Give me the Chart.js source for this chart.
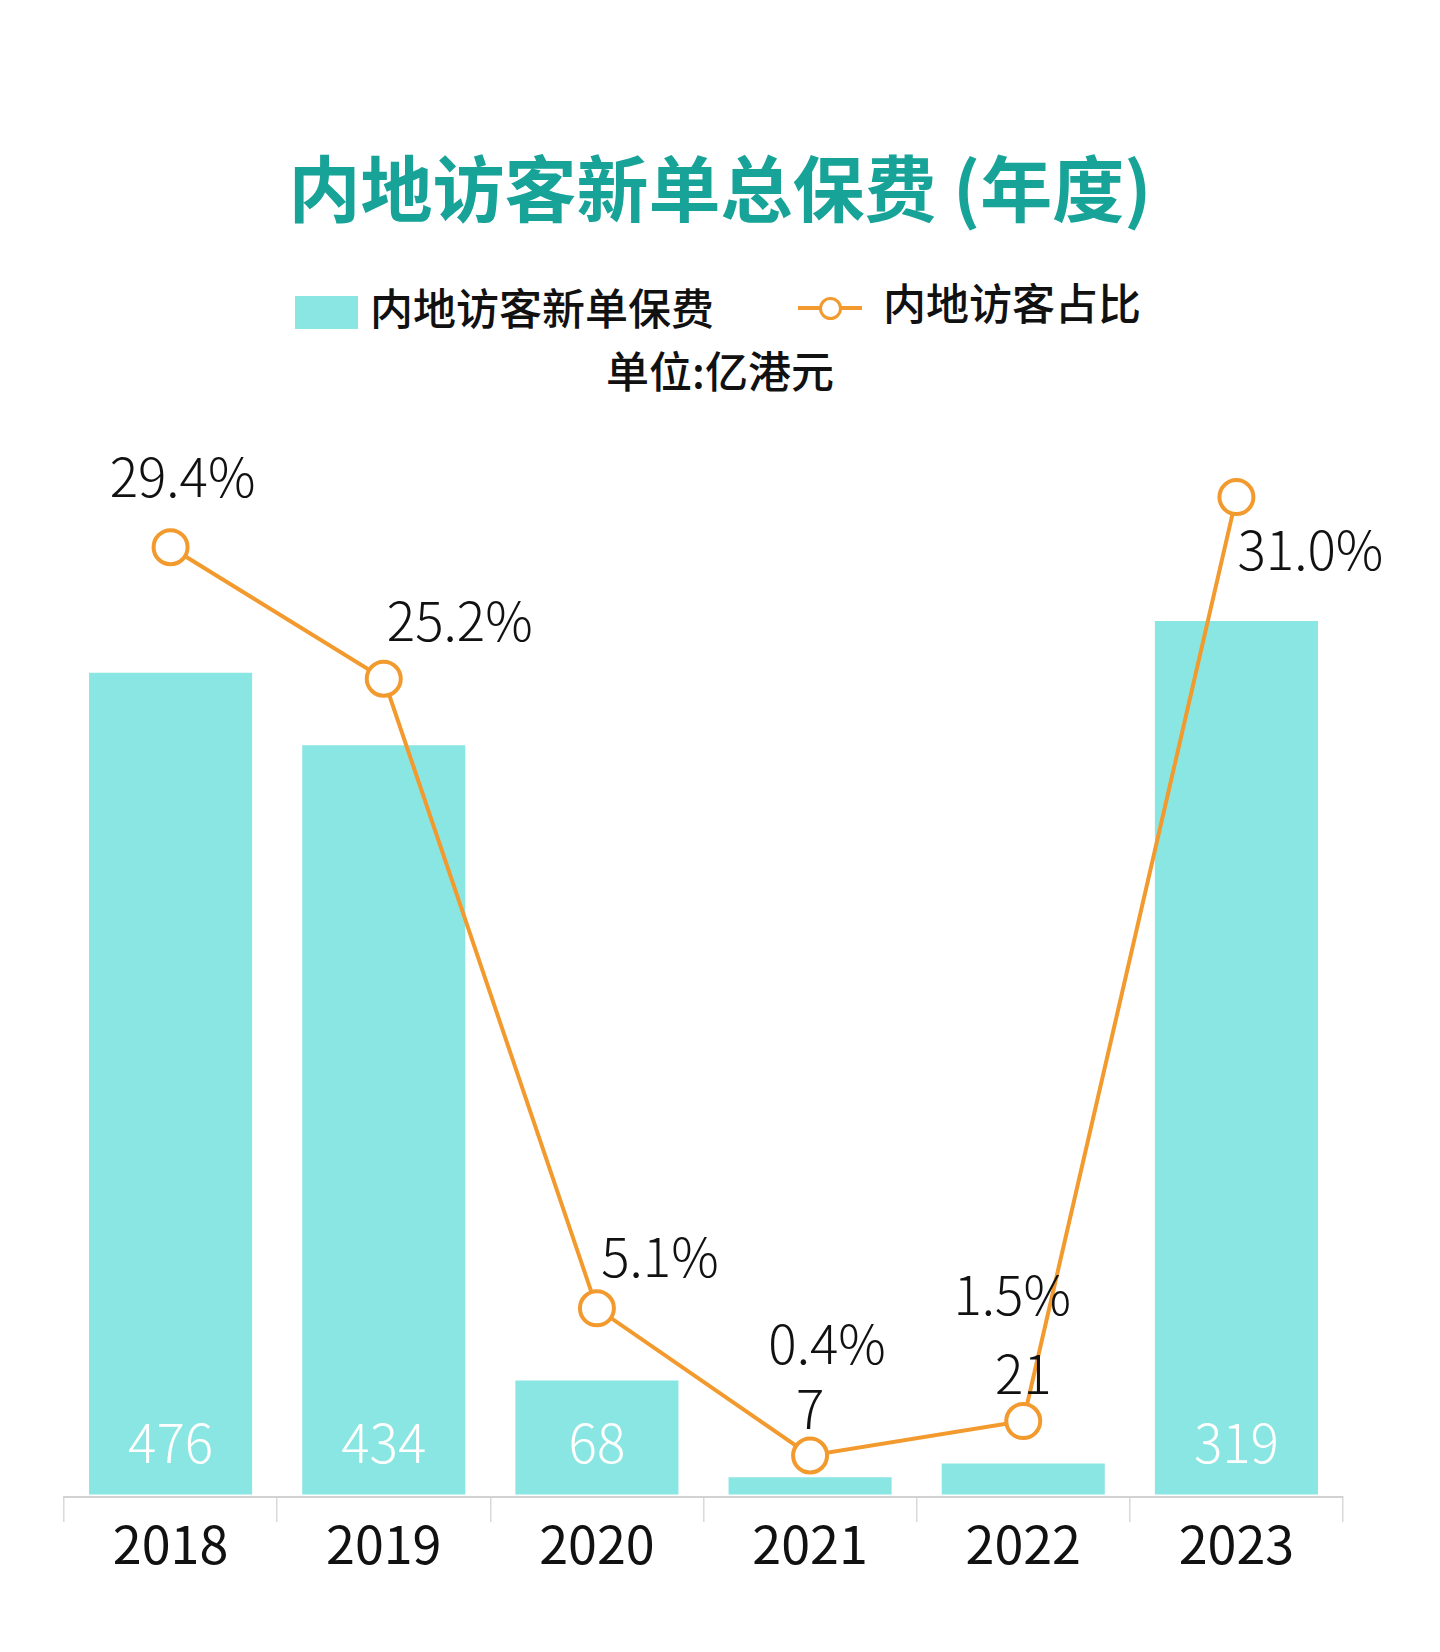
<!DOCTYPE html>
<html lang="zh-CN">
<head>
<meta charset="utf-8">
<title>内地访客新单总保费 (年度)</title>
<script src="https://cdn.jsdelivr.net/npm/chart.js@4.4.1/dist/chart.umd.min.js"></script>
<style>
    html, body { margin: 0; padding: 0; background: #fff; }
    body {
        width: 1440px; height: 1652px; position: relative; overflow: hidden;
        font-family: "Noto Sans CJK SC", "Noto Sans", sans-serif;
    }
    .title {
        position: absolute; left: 0; top: 149px; width: 1440px; text-align: center;
        font-size: 72px; line-height: 72px; font-weight: 700; color: #17a398;
    }
    .legend-text {
        position: absolute; font-size: 43px; line-height: 43px; font-weight: 500;
        color: #111; white-space: nowrap;
    }
    .swatch-bar { position: absolute; left: 295px; top: 296px; width: 63px; height: 33px; background: #8ae6e3; }
    .swatch-line { position: absolute; left: 798px; top: 306px; width: 64px; height: 4px; background: #f29a2e; }
    .swatch-dot {
        position: absolute; left: 819px; top: 297px; width: 23px; height: 23px; box-sizing: border-box;
        border: 3.5px solid #f29a2e; border-radius: 50%; background: #fff;
    }
    .unit { left: 0; width: 1440px; text-align: center; top: 348px; }
    #chart { position: absolute; left: 0; top: 400px; }
</style>
</head>
<body>
<div class="title">内地访客新单总保费 (年度)</div>
<div class="swatch-bar"></div>
<div class="legend-text" style="left:370px; top:285px">内地访客新单保费</div>
<div class="swatch-line"></div>
<div class="swatch-dot"></div>
<div class="legend-text" style="left:883px; top:280px">内地访客占比</div>
<div class="legend-text unit">单位:亿港元</div>
<canvas id="chart" width="1440" height="1252"></canvas>

<script>
const years = ['2018', '2019', '2020', '2021', '2022', '2023'];
// new-policy premium from mainland visitors, 亿港元 (the numbers printed on the bars)
const premium = [476, 434, 68, 7, 21, 319];
// bar lengths as the source draws them, same units; its 2023 bar is drawn far taller than 319
const barLength = [476, 434, 66, 10, 18, 506];
// mainland visitors' share, %
const share = [29.4, 25.2, 5.1, 0.4, 1.5, 31.0];

// where each % label sits relative to its point (px), copied from the source layout
const shareLabelShift = [[12, -50], [76, -38], [63, -31], [17, -92], [-11, -106], [74, 73]];

const numFont = '300 53px "Noto Sans CJK SC", "Noto Sans", sans-serif';

const valueLabels = {
    id: 'valueLabels',
    afterDatasetsDraw(chart) {
        const ctx = chart.ctx;
        const bars = chart.getDatasetMeta(0).data;
        const points = chart.getDatasetMeta(1).data;
        ctx.save();
        ctx.font = numFont;
        ctx.textAlign = 'center';
        ctx.textBaseline = 'alphabetic';

        bars.forEach((bar, i) => {
            if (bar.base - bar.y > 80) {
                ctx.fillStyle = '#fff';
                ctx.fillText(premium[i], bar.x, bar.base - 31);
            } else {
                // too short to hold the number: put it just above the line point
                ctx.fillStyle = '#111';
                ctx.fillText(premium[i], points[i].x, points[i].y - 27);
            }
        });

        ctx.fillStyle = '#111';
        points.forEach((pt, i) => {
            const [dx, dy] = shareLabelShift[i];
            ctx.fillText(share[i].toFixed(1) + '%', pt.x + dx, pt.y + dy);
        });
        ctx.restore();
    }
};

new Chart(document.getElementById('chart'), {
    data: {
        labels: years,
        datasets: [
            {
                type: 'bar',
                label: '内地访客新单保费',
                data: barLength,
                yAxisID: 'y',
                backgroundColor: '#8ae6e3',
                barPercentage: 0.765,
                categoryPercentage: 1,
                order: 2
            },
            {
                type: 'line',
                label: '内地访客占比',
                data: share,
                yAxisID: 'y1',
                borderColor: '#f29a2e',
                borderWidth: 4,
                tension: 0,
                pointRadius: 17,
                pointHoverRadius: 17,
                pointBorderWidth: 4,
                pointBackgroundColor: '#fff',
                pointBorderColor: '#f29a2e',
                clip: false,
                order: 1
            }
        ]
    },
    options: {
        responsive: false,
        animation: false,
        events: [],
        layout: { padding: { left: 64, right: 97, top: 20, bottom: 0 } },
        plugins: {
            legend: { display: false },
            tooltip: { enabled: false }
        },
        scales: {
            x: {
                grid: {
                    offset: true,
                    drawOnChartArea: false,
                    drawTicks: true,
                    tickLength: 25,
                    color: '#d9d9d9',
                    lineWidth: 1.5
                },
                border: { color: '#d2d2d2', width: 2 },
                ticks: {
                    color: '#111',
                    padding: -4,
                    font: { family: '"Noto Sans CJK SC", "Noto Sans", sans-serif', size: 52, lineHeight: 1 }
                },
                afterFit(scale) { scale.height = 155; }
            },
            y: { display: false, min: -1.45, max: 621.8 },
            y1: { display: false, min: -0.925, max: 33.43 }
        }
    },
    plugins: [valueLabels]
});
</script>
</body>
</html>
